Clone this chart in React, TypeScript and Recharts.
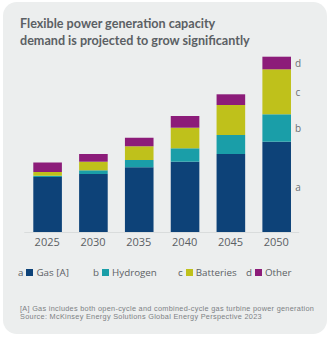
import { Bar, BarChart, LabelList, XAxis, YAxis } from "recharts";

// capacity by year, stacked bottom to top
const years = ["2025", "2030", "2035", "2040", "2045", "2050"];
const gas = [55.5, 58.5, 65.2, 70.8, 78.5, 90.8];
const hydrogen = [1.2, 3.7, 7.3, 13.4, 19, 27.4];
const batteries = [3.8, 8.6, 13.7, 20.6, 30, 45];
const other = [9.6, 7.7, 8.5, 11.7, 10.7, 12.6];

const series = [
  { key: "gas", tag: "a", name: "Gas [A]", color: "#0d4278" },
  { key: "hydrogen", tag: "b", name: "Hydrogen", color: "#1a9ea8" },
  { key: "batteries", tag: "c", name: "Batteries", color: "#bfc11b" },
  { key: "other", tag: "d", name: "Other", color: "#8c1c79" },
];

const data = years.map((year, i) => ({
  year,
  gas: gas[i],
  hydrogen: hydrogen[i],
  batteries: batteries[i],
  other: other[i],
}));

const textColor = "#5b6064";
const font = "'Open Sans', sans-serif";

// letter tag next to the last column only
const tagLabel = (tag: string) => (props: any) => {
  const { x, y, width, height, index } = props;
  if (index !== years.length - 1) return null;
  return (
    <text
      x={Number(x) + Number(width) + 7}
      y={Number(y) + Number(height) / 2}
      dominantBaseline="central"
      textAnchor="middle"
      fill="#6b7074"
      fontSize={10}
      fontFamily={font}
    >
      {tag}
    </text>
  );
};

const legendLeft = [18, 93, 178, 246];

export default function App() {
  return (
    <div style={{ position: "absolute", left: 0, top: 0, width: 329, height: 338, background: "#ffffff" }}>
      <div
        style={{
          position: "absolute",
          left: 3,
          top: 2,
          width: 324,
          height: 332,
          borderRadius: 14,
          background: "#eceeee",
        }}
      />
      <div
        style={{
          position: "absolute",
          left: 20,
          top: 16,
          fontFamily: "Lato, sans-serif",
          fontWeight: 700,
          fontSize: 12.6,
          lineHeight: "16.5px",
          color: textColor,
        }}
      >
        Flexible power generation capacity
        <br />
        demand is projected to grow significantly
      </div>
      <div style={{ position: "absolute", left: 0, top: 0 }}>
        <BarChart
          width={329}
          height={260}
          data={data}
          margin={{ top: 52.5, right: 29.8, bottom: 7.5, left: 24.3 }}
          barSize={28.6}
        >
          <XAxis
            dataKey="year"
            height={20}
            axisLine={{ stroke: "#d9dcdc" }}
            tickLine={false}
            tickMargin={0}
            tick={{ fill: textColor, fontSize: 11, fontFamily: font }}
          />
          <YAxis hide domain={[0, 180]} />
          {series.map((s) => (
            <Bar key={s.key} dataKey={s.key} stackId="cap" fill={s.color} isAnimationActive={false}>
              <LabelList dataKey={s.key} content={tagLabel(s.tag)} />
            </Bar>
          ))}
        </BarChart>
      </div>
      {series.map((s, i) => (
        <div
          key={s.key}
          style={{
            position: "absolute",
            left: legendLeft[i],
            top: 266,
            display: "flex",
            alignItems: "center",
            fontFamily: font,
            fontSize: 9.8,
            color: textColor,
            whiteSpace: "nowrap",
          }}
        >
          <span style={{ marginRight: 3 }}>{s.tag}</span>
          <span style={{ width: 7, height: 7, background: s.color, marginRight: 3 }} />
          <span>{s.name}</span>
        </div>
      ))}
      <div
        style={{
          position: "absolute",
          left: 20,
          top: 304.8,
          fontFamily: "'Liberation Sans', Arial, sans-serif",
          fontSize: 7.3,
          lineHeight: "8.5px",
          letterSpacing: 0.3,
          color: "#7d8184",
          whiteSpace: "nowrap",
        }}
      >
        <div>[A] Gas includes both open-cycle and combined-cycle gas turbine power generation</div>
        <div>Source: McKinsey Energy Solutions Global Energy Perspective 2023</div>
      </div>
    </div>
  );
}
